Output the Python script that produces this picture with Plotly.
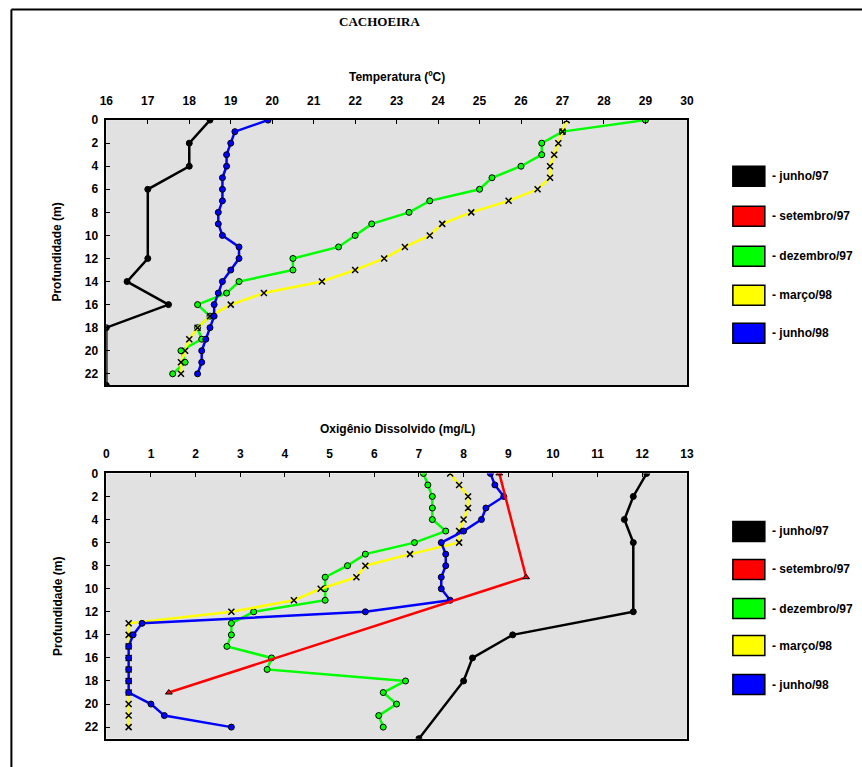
import plotly.graph_objects as go

# ---------------- DATA ----------------
depth_full = list(range(23))

# Temperature (ºC)
depth_temp_jun97 = [0, 2, 4, 6, 12, 14, 16, 18, 23]
temp_jun97 = [18.5, 18.0, 18.0, 17.0, 17.0, 16.5, 17.5, 16.0, 16.0]
temp_dez97 = [29.0, 27.0, 26.5, 26.5, 26.0, 25.3, 25.0, 23.8, 23.3, 22.4, 22.0, 21.6,
              20.5, 20.5, 19.2, 18.9, 18.2, 18.5, 18.2, 18.3, 17.8, 17.9, 17.6]
temp_mar98 = [27.1, 27.0, 26.9, 26.8, 26.7, 26.7, 26.4, 25.7, 24.8, 24.1, 23.8, 23.2,
              22.7, 22.0, 21.2, 19.8, 19.0, 18.5, 18.2, 18.0, 17.9, 17.8, 17.8]
temp_jun98 = [19.9, 19.1, 19.0, 18.9, 18.9, 18.8, 18.8, 18.8, 18.7, 18.7, 18.8, 19.2,
              19.2, 19.0, 18.8, 18.7, 18.6, 18.6, 18.5, 18.4, 18.3, 18.3, 18.2]

# Dissolved oxygen (mg/L)
depth_od_jun97 = [0, 2, 4, 6, 12, 14, 16, 18, 23]
od_jun97 = [12.1, 11.8, 11.6, 11.8, 11.8, 9.1, 8.2, 8.0, 7.0]
depth_od_set97 = [0, 9, 19]
od_set97 = [8.8, 9.4, 1.4]
od_dez97 = [7.1, 7.2, 7.3, 7.3, 7.3, 7.6, 6.9, 5.8, 5.4, 4.9, 4.9, 4.9,
            3.3, 2.8, 2.8, 2.7, 3.7, 3.6, 6.7, 6.2, 6.5, 6.1, 6.2]
od_mar98 = [7.7, 7.9, 8.1, 8.1, 8.0, 7.9, 7.9, 6.8, 5.8, 5.6, 4.8, 4.2,
            2.8, 0.5, 0.5, 0.5, 0.5, 0.5, 0.5, 0.5, 0.5, 0.5, 0.5]
od_jun98 = [8.6, 8.7, 8.9, 8.5, 8.4, 8.0, 7.5, 7.6, 7.6, 7.5, 7.5, 7.7,
            5.8, 0.8, 0.6, 0.5, 0.5, 0.5, 0.5, 0.5, 1.0, 1.3, 2.8]

legend_labels = ["- junho/97", "- setembro/97", "- dezembro/97", "- março/98", "- junho/98"]
legend_colors = ["#000000", "#FF0000", "#00FF00", "#FFFF00", "#0000FF"]

# ---------------- FIGURE ----------------
W, H = 862, 767
# layout positions are given in target-picture pixels and mapped to paper fractions
SX, BX, SY, BY = 0.9845, 6.6, 0.99, 6.0
def px(x): return ((x - BX) / SX) / W
def py(y): return 1 - ((y - BY) / SY) / H

LW = 2.5

def style(color, symbol, mcolor):
    return dict(line=dict(color=color, width=LW),
                marker=dict(symbol=symbol, size=6, color=mcolor,
                            line=dict(color="#000000", width=1)))

fig = go.Figure()

# top chart (x, y)
fig.add_trace(go.Scatter(x=temp_jun97, y=depth_temp_jun97, mode="lines+markers",
                         xaxis="x", yaxis="y", **style("#000000", "circle", "#000000")))
fig.add_trace(go.Scatter(x=temp_dez97, y=depth_full, mode="lines+markers",
                         xaxis="x", yaxis="y", **style("#00FF00", "circle", "#00FF00")))
fig.add_trace(go.Scatter(x=temp_mar98, y=depth_full, mode="lines+markers",
                         xaxis="x", yaxis="y", **style("#FFFF00", "x-thin", "#000000")))
fig.add_trace(go.Scatter(x=temp_jun98, y=depth_full, mode="lines+markers",
                         xaxis="x", yaxis="y", **style("#0000FF", "circle", "#0000FF")))

# bottom chart (x2, y2)
fig.add_trace(go.Scatter(x=od_jun97, y=depth_od_jun97, mode="lines+markers",
                         xaxis="x2", yaxis="y2", **style("#000000", "circle", "#000000")))
fig.add_trace(go.Scatter(x=od_dez97, y=depth_full, mode="lines+markers",
                         xaxis="x2", yaxis="y2", **style("#00FF00", "circle", "#00FF00")))
fig.add_trace(go.Scatter(x=od_mar98, y=depth_full, mode="lines+markers",
                         xaxis="x2", yaxis="y2", **style("#FFFF00", "x-thin", "#000000")))
fig.add_trace(go.Scatter(x=od_jun98, y=depth_full, mode="lines+markers",
                         xaxis="x2", yaxis="y2", **style("#0000FF", "circle", "#0000FF")))
fig.add_trace(go.Scatter(x=od_set97, y=depth_od_set97, mode="lines+markers",
                         xaxis="x2", yaxis="y2", **style("#FF0000", "triangle-up", "#FF0000")))

for tr in fig.data:
    if tr.marker.symbol == "x-thin":
        tr.marker.line = dict(color="#000000", width=1.5)

tickfont = dict(family="Liberation Sans, Arial, sans-serif", size=12, color="#000000", weight="bold")
axis_common = dict(showgrid=False, zeroline=False, showline=True, linecolor="#000000",
                   linewidth=1.5, mirror=True, ticks="inside", ticklen=4, tickcolor="#000000",
                   tickfont=tickfont)

xd = [px(106), px(687)]
fig.update_layout(
    width=W, height=H,
    margin=dict(l=0, r=0, t=0, b=0),
    paper_bgcolor="#FFFFFF",
    plot_bgcolor="#E1E1E1",
    showlegend=False,
    xaxis=dict(domain=xd, range=[16, 30], dtick=1, side="top", anchor="y",
               ticklabelstandoff=9, **axis_common),
    yaxis=dict(domain=[py(384), py(119)], range=[23, 0], tickvals=list(range(0, 23, 2)),
               anchor="x", ticklabelstandoff=4, **axis_common),
    xaxis2=dict(domain=xd, range=[0, 13], dtick=1, side="top", anchor="y2",
                ticklabelstandoff=9, **axis_common),
    yaxis2=dict(domain=[py(737), py(472)], range=[23, 0], tickvals=list(range(0, 23, 2)),
                anchor="x2", ticklabelstandoff=4, **axis_common),
)

lab_font = dict(family="Liberation Sans, Arial, sans-serif", size=12, color="#000000", weight="bold")
annotations = [
    dict(text="CACHOEIRA", x=px(380), y=py(20),
         font=dict(family="Liberation Serif, Times New Roman, serif", size=13, color="#000000", weight="bold")),
    dict(text="Temperatura (ºC)", x=px(397), y=py(76), font=lab_font),
    dict(text="Oxigênio Dissolvido (mg/L)", x=px(397), y=py(428), font=lab_font),
    dict(text="Profundidade (m)", x=px(57), y=py(251), textangle=-90, font=lab_font),
    dict(text="Profundidade (m)", x=px(57), y=py(605), textangle=-90, font=lab_font),
]
for a in annotations:
    a.update(xref="paper", yref="paper", showarrow=False, xanchor="center", yanchor="middle")

shapes = [
    dict(type="line", xref="paper", yref="paper", x0=px(11), x1=px(11), y0=-0.1, y1=py(8.5),
         line=dict(color="#000000", width=2)),
    dict(type="line", xref="paper", yref="paper", x0=px(11), x1=1.1, y0=py(8.5), y1=py(8.5),
         line=dict(color="#000000", width=2)),
]

legend_rows_top = [175, 215, 255, 294, 332]
legend_rows_bot = [530, 568, 607, 644, 683]
for rows in (legend_rows_top, legend_rows_bot):
    for yc, lab, col in zip(rows, legend_labels, legend_colors):
        shapes.append(dict(type="rect", xref="paper", yref="paper",
                           x0=px(733), x1=px(765), y0=py(yc + 10), y1=py(yc - 10),
                           fillcolor=col, line=dict(color="#000000", width=1.5)))
        annotations.append(dict(text=lab, x=px(770), y=py(yc), xref="paper", yref="paper",
                                showarrow=False, xanchor="left", yanchor="middle", font=lab_font))

fig.update_layout(annotations=annotations, shapes=shapes)
fig.write_html("out.html")
